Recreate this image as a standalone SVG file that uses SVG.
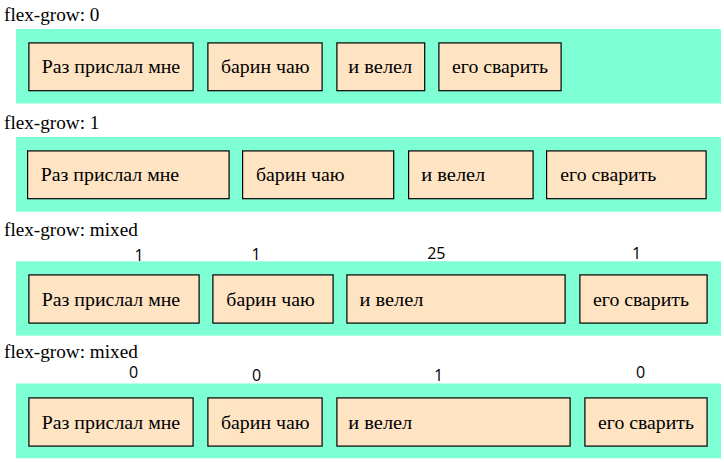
<svg xmlns="http://www.w3.org/2000/svg" width="724" height="462" viewBox="0 0 724 462">
<style>
.title{font-family:"Liberation Serif","Times New Roman",serif;font-size:19.2px;fill:#000}
.lbl{font-family:"Liberation Serif","Times New Roman",serif;font-size:19.4px;fill:#000}
.num{font-family:"Open Sans","Noto Sans",sans-serif;font-size:16px;fill:#000;text-anchor:middle}
.cont{fill:#7FFFD4}
.box{fill:#FFE4C4;stroke:#000;stroke-width:1.2}
</style>
<rect width="724" height="462" fill="#fff"/>

<g id="row1">
<text class="title" x="4" y="21">flex-grow: 0</text>
<rect class="cont" x="16" y="29" width="705" height="74.5"/>
<g id="r1b1"><rect class="box" x="28.9" y="42.9" width="164.2" height="47.8"/><text class="lbl" x="41.7" y="73.3" textLength="138.5" lengthAdjust="spacingAndGlyphs">Раз прислал мне</text></g>
<g id="r1b2"><rect class="box" x="207.9" y="42.9" width="114.2" height="47.8"/><text class="lbl" x="221" y="73.3" textLength="88.5" lengthAdjust="spacingAndGlyphs">барин чаю</text></g>
<g id="r1b3"><rect class="box" x="336.9" y="42.9" width="87.8" height="47.8"/><text class="lbl" x="348.3" y="73.3" textLength="64" lengthAdjust="spacingAndGlyphs">и велел</text></g>
<g id="r1b4"><rect class="box" x="438.9" y="42.9" width="122.2" height="47.8"/><text class="lbl" x="452" y="73.3" textLength="96" lengthAdjust="spacingAndGlyphs">его сварить</text></g>
</g>

<g id="row2">
<text class="title" x="4" y="128.5">flex-grow: 1</text>
<rect class="cont" x="16" y="137" width="705" height="74.7"/>
<g id="r2b1"><rect class="box" x="27.6" y="150.9" width="201.5" height="47.8"/><text class="lbl" x="40.7" y="181.3" textLength="138.5" lengthAdjust="spacingAndGlyphs">Раз прислал мне</text></g>
<g id="r2b2"><rect class="box" x="242.6" y="150.9" width="151.1" height="47.8"/><text class="lbl" x="256" y="181.3" textLength="88.5" lengthAdjust="spacingAndGlyphs">барин чаю</text></g>
<g id="r2b3"><rect class="box" x="408.6" y="150.9" width="124.5" height="47.8"/><text class="lbl" x="421.3" y="181.3" textLength="64" lengthAdjust="spacingAndGlyphs">и велел</text></g>
<g id="r2b4"><rect class="box" x="546.6" y="150.9" width="159.5" height="47.8"/><text class="lbl" x="560.3" y="181.3" textLength="96" lengthAdjust="spacingAndGlyphs">его сварить</text></g>
</g>

<g id="row3">
<text class="title" x="4" y="235.7">flex-grow: mixed</text>
<text class="num" x="139" y="260.5">1</text>
<text class="num" x="256" y="260">1</text>
<text class="num" x="436.3" y="259">25</text>
<text class="num" x="636.7" y="259">1</text>
<rect class="cont" x="16" y="261.3" width="705" height="74.4"/>
<g id="r3b1"><rect class="box" x="28.9" y="274.9" width="170.2" height="48.2"/><text class="lbl" x="41.7" y="305.5" textLength="138.5" lengthAdjust="spacingAndGlyphs">Раз прислал мне</text></g>
<g id="r3b2"><rect class="box" x="212.9" y="274.9" width="120.2" height="48.2"/><text class="lbl" x="226.3" y="305.5" textLength="88.5" lengthAdjust="spacingAndGlyphs">барин чаю</text></g>
<g id="r3b3"><rect class="box" x="346.9" y="274.9" width="218.2" height="48.2"/><text class="lbl" x="359.5" y="305.5" textLength="64" lengthAdjust="spacingAndGlyphs">и велел</text></g>
<g id="r3b4"><rect class="box" x="579.9" y="274.9" width="127.2" height="48.2"/><text class="lbl" x="593" y="305.5" textLength="96" lengthAdjust="spacingAndGlyphs">его сварить</text></g>
</g>

<g id="row4">
<text class="title" x="4" y="358.3">flex-grow: mixed</text>
<text class="num" x="133.7" y="378.3">0</text>
<text class="num" x="256.5" y="380.7">0</text>
<text class="num" x="438.7" y="380.5">1</text>
<text class="num" x="640.5" y="378.3">0</text>
<rect class="cont" x="16" y="383.5" width="705" height="74.8"/>
<g id="r4b1"><rect class="box" x="28.9" y="397.9" width="164.2" height="48.2"/><text class="lbl" x="41.7" y="428.5" textLength="138.5" lengthAdjust="spacingAndGlyphs">Раз прислал мне</text></g>
<g id="r4b2"><rect class="box" x="207.9" y="397.9" width="114.2" height="48.2"/><text class="lbl" x="221" y="428.5" textLength="88.5" lengthAdjust="spacingAndGlyphs">барин чаю</text></g>
<g id="r4b3"><rect class="box" x="336.9" y="397.9" width="233.2" height="48.2"/><text class="lbl" x="348.3" y="428.5" textLength="64" lengthAdjust="spacingAndGlyphs">и велел</text></g>
<g id="r4b4"><rect class="box" x="584.9" y="397.9" width="122.2" height="48.2"/><text class="lbl" x="598" y="428.5" textLength="96" lengthAdjust="spacingAndGlyphs">его сварить</text></g>
</g>
</svg>
